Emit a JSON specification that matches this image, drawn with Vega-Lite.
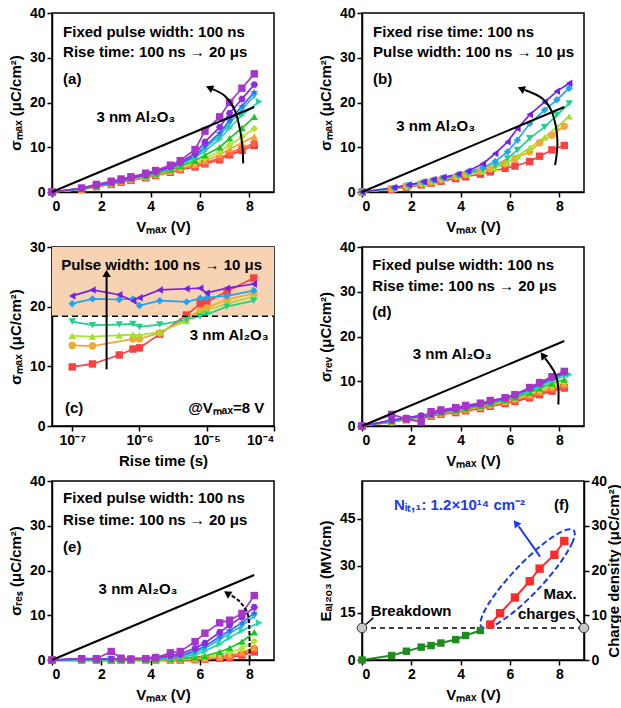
{
"$schema": "https://vega.github.io/schema/vega-lite/v6.json",
"background": "white",
"padding": {"left": 7, "top": 5, "right": 2, "bottom": 5},
"config": {
 "font": "Liberation Sans",
 "view": {"stroke": "black", "strokeWidth": 1.5},
 "axis": {"grid": false, "domainColor": "black", "domainWidth": 1.5, "tickColor": "black", "tickWidth": 1.5, "tickSize": 5, "labelFont": "Liberation Sans", "labelFontSize": 14, "labelFontWeight": "bold", "labelColor": "black", "labelPadding": 2, "titleFont": "Liberation Sans", "titleFontSize": 15, "titleFontWeight": "bold", "titleColor": "black", "titlePadding": 6},
 "text": {"font": "Liberation Sans", "fontSize": 15, "fontWeight": "bold", "align": "left", "baseline": "middle", "color": "black"},
 "point": {"filled": true, "size": 55, "opacity": 1},
 "line": {"strokeWidth": 1.7}
},
"datasets": {
 "ref": [{"v":0,"y":0},{"v":8.2,"y":19}],
 "a": [
{"s":1,"v":0,"y":0},{"s":1,"v":1.2,"y":0.6},{"s":1,"v":1.8,"y":1.2},{"s":1,"v":2.4,"y":1.7},{"s":1,"v":2.8,"y":2.2},{"s":1,"v":3.2,"y":2.6},{"s":1,"v":3.8,"y":3.2},{"s":1,"v":4.2,"y":3.7},{"s":1,"v":4.8,"y":4.4},{"s":1,"v":5.2,"y":5.0},{"s":1,"v":5.8,"y":5.6},{"s":1,"v":6.2,"y":6.3},{"s":1,"v":6.8,"y":7.2},{"s":1,"v":7.2,"y":8.3},{"s":1,"v":7.7,"y":9.3},{"s":1,"v":8.2,"y":10.4},
{"s":2,"v":0,"y":0},{"s":2,"v":1.2,"y":0.6},{"s":2,"v":1.8,"y":1.2},{"s":2,"v":2.4,"y":1.8},{"s":2,"v":2.8,"y":2.3},{"s":2,"v":3.2,"y":2.7},{"s":2,"v":3.8,"y":3.3},{"s":2,"v":4.2,"y":3.8},{"s":2,"v":4.8,"y":4.5},{"s":2,"v":5.2,"y":5.1},{"s":2,"v":5.8,"y":5.8},{"s":2,"v":6.2,"y":6.5},{"s":2,"v":6.8,"y":7.6},{"s":2,"v":7.2,"y":8.7},{"s":2,"v":7.7,"y":9.8},{"s":2,"v":8.2,"y":10.9},
{"s":3,"v":0,"y":0},{"s":3,"v":1.2,"y":0.6},{"s":3,"v":1.8,"y":1.3},{"s":3,"v":2.4,"y":1.9},{"s":3,"v":2.8,"y":2.4},{"s":3,"v":3.2,"y":2.8},{"s":3,"v":3.8,"y":3.4},{"s":3,"v":4.2,"y":3.9},{"s":3,"v":4.8,"y":4.6},{"s":3,"v":5.2,"y":5.3},{"s":3,"v":5.8,"y":6.1},{"s":3,"v":6.2,"y":7.0},{"s":3,"v":6.8,"y":8.3},{"s":3,"v":7.2,"y":9.6},{"s":3,"v":7.7,"y":11.0},{"s":3,"v":8.2,"y":12.4},
{"s":4,"v":0,"y":0},{"s":4,"v":1.2,"y":0.6},{"s":4,"v":1.8,"y":1.3},{"s":4,"v":2.4,"y":1.9},{"s":4,"v":2.8,"y":2.4},{"s":4,"v":3.2,"y":2.9},{"s":4,"v":3.8,"y":3.5},{"s":4,"v":4.2,"y":4.0},{"s":4,"v":4.8,"y":4.8},{"s":4,"v":5.2,"y":5.5},{"s":4,"v":5.8,"y":6.5},{"s":4,"v":6.2,"y":7.5},{"s":4,"v":6.8,"y":9.0},{"s":4,"v":7.2,"y":10.5},{"s":4,"v":7.7,"y":12.3},{"s":4,"v":8.2,"y":14.2},
{"s":5,"v":0,"y":0},{"s":5,"v":1.2,"y":0.7},{"s":5,"v":1.8,"y":1.3},{"s":5,"v":2.4,"y":2.0},{"s":5,"v":2.8,"y":2.5},{"s":5,"v":3.2,"y":3.0},{"s":5,"v":3.8,"y":3.6},{"s":5,"v":4.2,"y":4.1},{"s":5,"v":4.8,"y":5.0},{"s":5,"v":5.2,"y":5.8},{"s":5,"v":5.8,"y":7.0},{"s":5,"v":6.2,"y":8.2},{"s":5,"v":6.8,"y":10.0},{"s":5,"v":7.2,"y":12.0},{"s":5,"v":7.7,"y":14.3},{"s":5,"v":8.2,"y":16.8},
{"s":6,"v":0,"y":0},{"s":6,"v":1.2,"y":0.7},{"s":6,"v":1.8,"y":1.4},{"s":6,"v":2.4,"y":2.0},{"s":6,"v":2.8,"y":2.5},{"s":6,"v":3.2,"y":3.0},{"s":6,"v":3.8,"y":3.7},{"s":6,"v":4.2,"y":4.3},{"s":6,"v":4.8,"y":5.2},{"s":6,"v":5.2,"y":6.1},{"s":6,"v":5.8,"y":7.6},{"s":6,"v":6.2,"y":9.2},{"s":6,"v":6.8,"y":11.8},{"s":6,"v":7.2,"y":14.3},{"s":6,"v":7.7,"y":17.2},{"s":6,"v":8.4,"y":20.2},
{"s":7,"v":0,"y":0},{"s":7,"v":1.2,"y":0.7},{"s":7,"v":1.8,"y":1.4},{"s":7,"v":2.4,"y":2.1},{"s":7,"v":2.8,"y":2.6},{"s":7,"v":3.2,"y":3.1},{"s":7,"v":3.8,"y":3.8},{"s":7,"v":4.2,"y":4.4},{"s":7,"v":4.8,"y":5.4},{"s":7,"v":5.2,"y":6.3},{"s":7,"v":5.8,"y":7.9},{"s":7,"v":6.2,"y":9.8},{"s":7,"v":6.8,"y":12.6},{"s":7,"v":7.2,"y":15.3},{"s":7,"v":7.7,"y":18.4},{"s":7,"v":8.2,"y":21.5},
{"s":8,"v":0,"y":0},{"s":8,"v":1.2,"y":0.8},{"s":8,"v":1.8,"y":1.5},{"s":8,"v":2.4,"y":2.1},{"s":8,"v":2.8,"y":2.6},{"s":8,"v":3.2,"y":3.1},{"s":8,"v":3.8,"y":3.8},{"s":8,"v":4.2,"y":4.5},{"s":8,"v":4.8,"y":5.5},{"s":8,"v":5.2,"y":6.4},{"s":8,"v":5.8,"y":8.1},{"s":8,"v":6.2,"y":10.2},{"s":8,"v":6.8,"y":13.2},{"s":8,"v":7.2,"y":16.0},{"s":8,"v":7.7,"y":19.2},{"s":8,"v":8.2,"y":22.3},
{"s":9,"v":0,"y":0},{"s":9,"v":1.2,"y":0.8},{"s":9,"v":1.8,"y":1.5},{"s":9,"v":2.4,"y":2.2},{"s":9,"v":2.8,"y":2.7},{"s":9,"v":3.2,"y":3.2},{"s":9,"v":3.8,"y":3.9},{"s":9,"v":4.2,"y":4.6},{"s":9,"v":4.8,"y":5.7},{"s":9,"v":5.2,"y":6.6},{"s":9,"v":5.8,"y":8.6},{"s":9,"v":6.2,"y":11.2},{"s":9,"v":6.8,"y":14.5},{"s":9,"v":7.2,"y":17.6},{"s":9,"v":7.7,"y":20.8},{"s":9,"v":8.2,"y":24.0},
{"s":10,"v":0,"y":0},{"s":10,"v":1.2,"y":0.9},{"s":10,"v":1.8,"y":1.7},{"s":10,"v":2.4,"y":2.4},{"s":10,"v":2.8,"y":2.9},{"s":10,"v":3.2,"y":3.4},{"s":10,"v":3.8,"y":4.2},{"s":10,"v":4.2,"y":4.8},{"s":10,"v":4.8,"y":6.0},{"s":10,"v":5.2,"y":7.0},{"s":10,"v":5.8,"y":9.5},{"s":10,"v":6.2,"y":13.6},{"s":10,"v":6.8,"y":16.8},{"s":10,"v":7.2,"y":20.0},{"s":10,"v":7.7,"y":23.2},{"s":10,"v":8.2,"y":26.4}
 ],
 "b": [
{"s":1,"v":0,"y":0},{"s":1,"v":1.2,"y":0.6},{"s":1,"v":1.8,"y":1.1},{"s":1,"v":2.4,"y":1.6},{"s":1,"v":2.8,"y":2.0},{"s":1,"v":3.2,"y":2.4},{"s":1,"v":3.8,"y":3.0},{"s":1,"v":4.2,"y":3.4},{"s":1,"v":4.8,"y":4.0},{"s":1,"v":5.2,"y":4.5},{"s":1,"v":5.8,"y":5.3},{"s":1,"v":6.2,"y":5.8},{"s":1,"v":6.8,"y":6.8},{"s":1,"v":7.2,"y":8.0},{"s":1,"v":7.7,"y":9.4},{"s":1,"v":8.2,"y":10.4},
{"s":2,"v":0,"y":0},{"s":2,"v":1.2,"y":0.7},{"s":2,"v":1.8,"y":1.3},{"s":2,"v":2.4,"y":1.9},{"s":2,"v":2.8,"y":2.3},{"s":2,"v":3.2,"y":2.8},{"s":2,"v":3.8,"y":3.4},{"s":2,"v":4.2,"y":3.9},{"s":2,"v":4.8,"y":4.6},{"s":2,"v":5.2,"y":5.2},{"s":2,"v":5.8,"y":6.3},{"s":2,"v":6.2,"y":7.5},{"s":2,"v":6.8,"y":9.0},{"s":2,"v":7.2,"y":11.0},{"s":2,"v":7.7,"y":12.7},{"s":2,"v":8.2,"y":14.7},
{"s":3,"v":0,"y":0},{"s":3,"v":1.3,"y":0.7},{"s":3,"v":1.9,"y":1.3},{"s":3,"v":2.5,"y":1.9},{"s":3,"v":2.9,"y":2.4},{"s":3,"v":3.3,"y":2.9},{"s":3,"v":3.9,"y":3.5},{"s":3,"v":4.3,"y":4.0},{"s":3,"v":4.9,"y":4.7},{"s":3,"v":5.4,"y":5.4},{"s":3,"v":5.9,"y":6.6},{"s":3,"v":6.3,"y":8.0},{"s":3,"v":6.8,"y":9.9},{"s":3,"v":7.4,"y":12.2},{"s":3,"v":7.9,"y":14.5},{"s":3,"v":8.4,"y":16.9},
{"s":4,"v":0,"y":0},{"s":4,"v":1.3,"y":0.8},{"s":4,"v":1.9,"y":1.4},{"s":4,"v":2.5,"y":2.0},{"s":4,"v":2.9,"y":2.5},{"s":4,"v":3.3,"y":3.0},{"s":4,"v":3.9,"y":3.6},{"s":4,"v":4.3,"y":4.2},{"s":4,"v":4.9,"y":5.0},{"s":4,"v":5.4,"y":5.8},{"s":4,"v":5.9,"y":7.5},{"s":4,"v":6.3,"y":9.4},{"s":4,"v":6.8,"y":12.0},{"s":4,"v":7.4,"y":14.5},{"s":4,"v":7.9,"y":17.2},{"s":4,"v":8.4,"y":19.8},
{"s":5,"v":0,"y":0},{"s":5,"v":1.3,"y":0.9},{"s":5,"v":1.9,"y":1.5},{"s":5,"v":2.5,"y":2.2},{"s":5,"v":2.9,"y":2.7},{"s":5,"v":3.3,"y":3.2},{"s":5,"v":3.9,"y":3.9},{"s":5,"v":4.3,"y":4.5},{"s":5,"v":4.9,"y":5.4},{"s":5,"v":5.4,"y":6.8},{"s":5,"v":5.9,"y":9.0},{"s":5,"v":6.3,"y":11.6},{"s":5,"v":6.8,"y":15.3},{"s":5,"v":7.4,"y":18.3},{"s":5,"v":7.9,"y":20.6},{"s":5,"v":8.4,"y":23.2},
{"s":6,"v":0,"y":0},{"s":6,"v":1.3,"y":1.0},{"s":6,"v":1.9,"y":1.6},{"s":6,"v":2.5,"y":2.3},{"s":6,"v":2.9,"y":2.8},{"s":6,"v":3.3,"y":3.3},{"s":6,"v":3.9,"y":4.0},{"s":6,"v":4.3,"y":4.7},{"s":6,"v":4.9,"y":6.3},{"s":6,"v":5.4,"y":8.6},{"s":6,"v":5.9,"y":11.2},{"s":6,"v":6.3,"y":14.2},{"s":6,"v":6.8,"y":17.3},{"s":6,"v":7.4,"y":20.1},{"s":6,"v":7.9,"y":22.5},{"s":6,"v":8.4,"y":24.3}
 ],
 "c": [
{"s":1,"v":1e-7,"y":9.9},{"s":1,"v":2e-7,"y":10.4},{"s":1,"v":5e-7,"y":11.9},{"s":1,"v":8e-7,"y":12.9},{"s":1,"v":1e-6,"y":13.1},{"s":1,"v":2e-6,"y":15.4},{"s":1,"v":5e-6,"y":18.6},{"s":1,"v":8e-6,"y":20.5},{"s":1,"v":1e-5,"y":20.8},{"s":1,"v":2e-5,"y":22.6},{"s":1,"v":5e-5,"y":24.8},
{"s":2,"v":1e-7,"y":13.5},{"s":2,"v":2e-7,"y":13.4},{"s":2,"v":8e-7,"y":14.6},{"s":2,"v":1e-6,"y":14.6},{"s":2,"v":2e-6,"y":15.6},{"s":2,"v":5e-6,"y":18.0},{"s":2,"v":8e-6,"y":19.3},{"s":2,"v":1e-5,"y":19.8},{"s":2,"v":2e-5,"y":21.2},{"s":2,"v":5e-5,"y":22.2},
{"s":3,"v":1e-7,"y":15.1},{"s":3,"v":2e-7,"y":15.0},{"s":3,"v":5e-7,"y":15.2},{"s":3,"v":8e-7,"y":15.3},{"s":3,"v":1e-6,"y":15.2},{"s":3,"v":2e-6,"y":15.8},{"s":3,"v":5e-6,"y":17.6},{"s":3,"v":8e-6,"y":19.1},{"s":3,"v":1e-5,"y":19.4},{"s":3,"v":2e-5,"y":20.5},{"s":3,"v":5e-5,"y":21.7},
{"s":4,"v":1e-7,"y":17.5},{"s":4,"v":2e-7,"y":16.9},{"s":4,"v":5e-7,"y":17.0},{"s":4,"v":8e-7,"y":17.1},{"s":4,"v":1e-6,"y":16.6},{"s":4,"v":2e-6,"y":17.0},{"s":4,"v":5e-6,"y":17.8},{"s":4,"v":8e-6,"y":18.4},{"s":4,"v":1e-5,"y":18.7},{"s":4,"v":2e-5,"y":20.0},{"s":4,"v":5e-5,"y":21.0},
{"s":5,"v":1e-7,"y":20.5},{"s":5,"v":2e-7,"y":21.3},{"s":5,"v":5e-7,"y":21.2},{"s":5,"v":8e-7,"y":21.3},{"s":5,"v":1e-6,"y":20.2},{"s":5,"v":2e-6,"y":21.0},{"s":5,"v":5e-6,"y":20.8},{"s":5,"v":8e-6,"y":21.4},{"s":5,"v":1e-5,"y":21.5},{"s":5,"v":2e-5,"y":21.8},{"s":5,"v":5e-5,"y":22.7},
{"s":6,"v":1e-7,"y":21.8},{"s":6,"v":2e-7,"y":22.8},{"s":6,"v":5e-7,"y":22.0},{"s":6,"v":8e-7,"y":21.0},{"s":6,"v":1e-6,"y":21.5},{"s":6,"v":2e-6,"y":22.8},{"s":6,"v":5e-6,"y":23.0},{"s":6,"v":8e-6,"y":23.1},{"s":6,"v":1e-5,"y":22.3},{"s":6,"v":2e-5,"y":23.1},{"s":6,"v":5e-5,"y":23.8}
 ],
 "d": [
{"s":1,"v":0,"y":0},{"s":1,"v":1.2,"y":0.9},{"s":1,"v":1.8,"y":1.4},{"s":1,"v":2.4,"y":1.8},{"s":1,"v":2.8,"y":2.2},{"s":1,"v":3.2,"y":2.6},{"s":1,"v":3.8,"y":3.0},{"s":1,"v":4.2,"y":3.4},{"s":1,"v":4.8,"y":3.9},{"s":1,"v":5.2,"y":4.4},{"s":1,"v":5.8,"y":5.0},{"s":1,"v":6.2,"y":5.5},{"s":1,"v":6.8,"y":6.3},{"s":1,"v":7.2,"y":7.0},{"s":1,"v":7.7,"y":7.8},{"s":1,"v":8.2,"y":8.5},
{"s":2,"v":0,"y":0},{"s":2,"v":1.2,"y":0.9},{"s":2,"v":1.8,"y":1.5},{"s":2,"v":2.4,"y":1.9},{"s":2,"v":2.8,"y":2.3},{"s":2,"v":3.2,"y":2.7},{"s":2,"v":3.8,"y":3.2},{"s":2,"v":4.2,"y":3.5},{"s":2,"v":4.8,"y":4.1},{"s":2,"v":5.2,"y":4.6},{"s":2,"v":5.8,"y":5.2},{"s":2,"v":6.2,"y":5.7},{"s":2,"v":6.8,"y":6.6},{"s":2,"v":7.2,"y":7.3},{"s":2,"v":7.7,"y":8.2},{"s":2,"v":8.2,"y":8.9},
{"s":3,"v":0,"y":0},{"s":3,"v":1.2,"y":1.0},{"s":3,"v":1.8,"y":1.5},{"s":3,"v":2.4,"y":2.0},{"s":3,"v":2.8,"y":2.4},{"s":3,"v":3.2,"y":2.8},{"s":3,"v":3.8,"y":3.3},{"s":3,"v":4.2,"y":3.7},{"s":3,"v":4.8,"y":4.2},{"s":3,"v":5.2,"y":4.7},{"s":3,"v":5.8,"y":5.4},{"s":3,"v":6.2,"y":6.0},{"s":3,"v":6.8,"y":6.9},{"s":3,"v":7.2,"y":7.7},{"s":3,"v":7.7,"y":8.6},{"s":3,"v":8.2,"y":9.4},
{"s":4,"v":0,"y":0},{"s":4,"v":1.2,"y":1.0},{"s":4,"v":1.8,"y":1.6},{"s":4,"v":2.4,"y":2.1},{"s":4,"v":2.8,"y":2.5},{"s":4,"v":3.2,"y":2.9},{"s":4,"v":3.8,"y":3.4},{"s":4,"v":4.2,"y":3.8},{"s":4,"v":4.8,"y":4.4},{"s":4,"v":5.2,"y":4.9},{"s":4,"v":5.8,"y":5.6},{"s":4,"v":6.2,"y":6.2},{"s":4,"v":6.8,"y":7.2},{"s":4,"v":7.2,"y":8.0},{"s":4,"v":7.7,"y":9.0},{"s":4,"v":8.2,"y":9.9},
{"s":5,"v":0,"y":0},{"s":5,"v":1.2,"y":1.1},{"s":5,"v":1.8,"y":1.6},{"s":5,"v":2.4,"y":2.1},{"s":5,"v":2.8,"y":2.5},{"s":5,"v":3.2,"y":3.0},{"s":5,"v":3.8,"y":3.5},{"s":5,"v":4.2,"y":3.9},{"s":5,"v":4.8,"y":4.5},{"s":5,"v":5.2,"y":5.0},{"s":5,"v":5.8,"y":5.8},{"s":5,"v":6.2,"y":6.4},{"s":5,"v":6.8,"y":7.5},{"s":5,"v":7.2,"y":8.4},{"s":5,"v":7.7,"y":9.5},{"s":5,"v":8.2,"y":10.4},
{"s":6,"v":0,"y":0},{"s":6,"v":1.2,"y":1.1},{"s":6,"v":1.8,"y":1.7},{"s":6,"v":2.4,"y":2.2},{"s":6,"v":2.8,"y":2.6},{"s":6,"v":3.2,"y":3.1},{"s":6,"v":3.8,"y":3.6},{"s":6,"v":4.2,"y":4.0},{"s":6,"v":4.8,"y":4.6},{"s":6,"v":5.2,"y":5.2},{"s":6,"v":5.8,"y":6.0},{"s":6,"v":6.2,"y":6.7},{"s":6,"v":6.8,"y":7.8},{"s":6,"v":7.2,"y":8.8},{"s":6,"v":7.7,"y":10.1},{"s":6,"v":8.4,"y":11.5},
{"s":7,"v":0,"y":0},{"s":7,"v":1.2,"y":1.2},{"s":7,"v":1.8,"y":1.7},{"s":7,"v":2.4,"y":2.2},{"s":7,"v":2.8,"y":2.7},{"s":7,"v":3.2,"y":3.2},{"s":7,"v":3.8,"y":3.7},{"s":7,"v":4.2,"y":4.1},{"s":7,"v":4.8,"y":4.7},{"s":7,"v":5.2,"y":5.3},{"s":7,"v":5.8,"y":6.1},{"s":7,"v":6.2,"y":6.9},{"s":7,"v":6.8,"y":8.1},{"s":7,"v":7.2,"y":9.1},{"s":7,"v":7.7,"y":10.3},{"s":7,"v":8.2,"y":11.6},
{"s":8,"v":0,"y":0},{"s":8,"v":1.2,"y":1.2},{"s":8,"v":1.8,"y":1.8},{"s":8,"v":2.4,"y":2.3},{"s":8,"v":2.8,"y":2.7},{"s":8,"v":3.2,"y":3.2},{"s":8,"v":3.8,"y":3.8},{"s":8,"v":4.2,"y":4.2},{"s":8,"v":4.8,"y":4.8},{"s":8,"v":5.2,"y":5.4},{"s":8,"v":5.8,"y":6.2},{"s":8,"v":6.2,"y":7.0},{"s":8,"v":6.8,"y":8.3},{"s":8,"v":7.2,"y":9.3},{"s":8,"v":7.7,"y":10.6},{"s":8,"v":8.2,"y":11.8},
{"s":9,"v":0,"y":0},{"s":9,"v":1.2,"y":1.3},{"s":9,"v":1.8,"y":1.8},{"s":9,"v":2.4,"y":2.3},{"s":9,"v":2.8,"y":2.8},{"s":9,"v":3.2,"y":3.3},{"s":9,"v":3.8,"y":3.8},{"s":9,"v":4.2,"y":4.3},{"s":9,"v":4.8,"y":4.9},{"s":9,"v":5.2,"y":5.5},{"s":9,"v":5.8,"y":6.3},{"s":9,"v":6.2,"y":7.1},{"s":9,"v":6.8,"y":8.4},{"s":9,"v":7.2,"y":9.5},{"s":9,"v":7.7,"y":10.9},{"s":9,"v":8.2,"y":12.1},
{"s":10,"v":0,"y":0},{"s":10,"v":1.2,"y":2.6},{"s":10,"v":1.8,"y":1.6},{"s":10,"v":2.4,"y":0.9},{"s":10,"v":2.8,"y":3.2},{"s":10,"v":3.2,"y":3.6},{"s":10,"v":3.8,"y":4.1},{"s":10,"v":4.2,"y":4.6},{"s":10,"v":4.8,"y":5.1},{"s":10,"v":5.2,"y":5.7},{"s":10,"v":5.8,"y":6.3},{"s":10,"v":6.2,"y":7.0},{"s":10,"v":6.8,"y":8.6},{"s":10,"v":7.2,"y":9.7},{"s":10,"v":7.7,"y":11.0},{"s":10,"v":8.2,"y":12.2}
 ],
 "e": [
{"s":1,"v":0,"y":0},{"s":1,"v":1.2,"y":0},{"s":1,"v":1.8,"y":0},{"s":1,"v":2.4,"y":0},{"s":1,"v":2.8,"y":0},{"s":1,"v":3.2,"y":0},{"s":1,"v":3.8,"y":0},{"s":1,"v":4.2,"y":0},{"s":1,"v":4.8,"y":0},{"s":1,"v":5.2,"y":0},{"s":1,"v":5.8,"y":0.1},{"s":1,"v":6.2,"y":0.2},{"s":1,"v":6.8,"y":0.4},{"s":1,"v":7.2,"y":0.6},{"s":1,"v":7.7,"y":1.1},{"s":1,"v":8.2,"y":1.8},
{"s":2,"v":0,"y":0},{"s":2,"v":1.2,"y":0},{"s":2,"v":1.8,"y":0},{"s":2,"v":2.4,"y":0},{"s":2,"v":2.8,"y":0},{"s":2,"v":3.2,"y":0},{"s":2,"v":3.8,"y":0},{"s":2,"v":4.2,"y":0},{"s":2,"v":4.8,"y":0},{"s":2,"v":5.2,"y":0.1},{"s":2,"v":5.8,"y":0.1},{"s":2,"v":6.2,"y":0.2},{"s":2,"v":6.8,"y":0.5},{"s":2,"v":7.2,"y":0.8},{"s":2,"v":7.7,"y":1.3},{"s":2,"v":8.2,"y":2.5},
{"s":3,"v":0,"y":0},{"s":3,"v":1.2,"y":0},{"s":3,"v":1.8,"y":0},{"s":3,"v":2.4,"y":0},{"s":3,"v":2.8,"y":0},{"s":3,"v":3.2,"y":0},{"s":3,"v":3.8,"y":0},{"s":3,"v":4.2,"y":0},{"s":3,"v":4.8,"y":0},{"s":3,"v":5.2,"y":0.1},{"s":3,"v":5.8,"y":0.2},{"s":3,"v":6.2,"y":0.3},{"s":3,"v":6.8,"y":0.7},{"s":3,"v":7.2,"y":1.1},{"s":3,"v":7.7,"y":1.7},{"s":3,"v":8.2,"y":2.8},
{"s":4,"v":0,"y":0},{"s":4,"v":1.2,"y":0.1},{"s":4,"v":1.8,"y":0.1},{"s":4,"v":2.4,"y":0},{"s":4,"v":2.8,"y":0},{"s":4,"v":3.2,"y":0},{"s":4,"v":3.8,"y":0},{"s":4,"v":4.2,"y":0},{"s":4,"v":4.8,"y":0.1},{"s":4,"v":5.2,"y":0.2},{"s":4,"v":5.8,"y":0.4},{"s":4,"v":6.2,"y":0.6},{"s":4,"v":6.8,"y":1.2},{"s":4,"v":7.2,"y":1.7},{"s":4,"v":7.7,"y":2.6},{"s":4,"v":8.2,"y":4.2},
{"s":5,"v":0,"y":0},{"s":5,"v":1.2,"y":0.1},{"s":5,"v":1.8,"y":0},{"s":5,"v":2.4,"y":0},{"s":5,"v":2.8,"y":0},{"s":5,"v":3.2,"y":0},{"s":5,"v":3.8,"y":0.1},{"s":5,"v":4.2,"y":0.1},{"s":5,"v":4.8,"y":0.2},{"s":5,"v":5.2,"y":0.3},{"s":5,"v":5.8,"y":0.6},{"s":5,"v":6.2,"y":0.9},{"s":5,"v":6.8,"y":1.8},{"s":5,"v":7.2,"y":2.7},{"s":5,"v":7.7,"y":4.1},{"s":5,"v":8.2,"y":6.2},
{"s":6,"v":0,"y":0},{"s":6,"v":1.2,"y":0},{"s":6,"v":1.8,"y":0.1},{"s":6,"v":2.4,"y":0.1},{"s":6,"v":2.8,"y":0.1},{"s":6,"v":3.2,"y":0.2},{"s":6,"v":3.8,"y":0.2},{"s":6,"v":4.2,"y":0.3},{"s":6,"v":4.8,"y":0.4},{"s":6,"v":5.2,"y":0.6},{"s":6,"v":5.8,"y":1.2},{"s":6,"v":6.2,"y":2.0},{"s":6,"v":6.8,"y":3.6},{"s":6,"v":7.2,"y":5.0},{"s":6,"v":7.7,"y":6.6},{"s":6,"v":8.4,"y":8.3},
{"s":7,"v":0,"y":0},{"s":7,"v":1.2,"y":0.2},{"s":7,"v":1.8,"y":0.1},{"s":7,"v":2.4,"y":0.2},{"s":7,"v":2.8,"y":0.2},{"s":7,"v":3.2,"y":0.2},{"s":7,"v":3.8,"y":0.3},{"s":7,"v":4.2,"y":0.4},{"s":7,"v":4.8,"y":0.6},{"s":7,"v":5.2,"y":0.8},{"s":7,"v":5.8,"y":1.7},{"s":7,"v":6.2,"y":2.7},{"s":7,"v":6.8,"y":4.6},{"s":7,"v":7.2,"y":6.0},{"s":7,"v":7.7,"y":7.6},{"s":7,"v":8.2,"y":9.8},
{"s":8,"v":0,"y":0},{"s":8,"v":1.2,"y":0.2},{"s":8,"v":1.8,"y":0.2},{"s":8,"v":2.4,"y":0.2},{"s":8,"v":2.8,"y":0.2},{"s":8,"v":3.2,"y":0.3},{"s":8,"v":3.8,"y":0.3},{"s":8,"v":4.2,"y":0.5},{"s":8,"v":4.8,"y":0.8},{"s":8,"v":5.2,"y":1.0},{"s":8,"v":5.8,"y":2.0},{"s":8,"v":6.2,"y":3.1},{"s":8,"v":6.8,"y":5.2},{"s":8,"v":7.2,"y":6.6},{"s":8,"v":7.7,"y":8.3},{"s":8,"v":8.2,"y":10.5},
{"s":9,"v":0,"y":0},{"s":9,"v":1.2,"y":0.3},{"s":9,"v":1.8,"y":0.2},{"s":9,"v":2.4,"y":0.2},{"s":9,"v":2.8,"y":0.2},{"s":9,"v":3.2,"y":0.3},{"s":9,"v":3.8,"y":0.4},{"s":9,"v":4.2,"y":0.7},{"s":9,"v":4.8,"y":1.0},{"s":9,"v":5.2,"y":1.4},{"s":9,"v":5.8,"y":2.6},{"s":9,"v":6.2,"y":3.8},{"s":9,"v":6.8,"y":6.2},{"s":9,"v":7.2,"y":7.8},{"s":9,"v":7.7,"y":9.6},{"s":9,"v":8.2,"y":11.8},
{"s":10,"v":0,"y":0},{"s":10,"v":1.2,"y":0.3},{"s":10,"v":1.8,"y":0.3},{"s":10,"v":2.4,"y":1.9},{"s":10,"v":2.8,"y":0.4},{"s":10,"v":3.2,"y":0.2},{"s":10,"v":3.8,"y":0.3},{"s":10,"v":4.2,"y":0.5},{"s":10,"v":4.8,"y":1.6},{"s":10,"v":5.2,"y":1.9},{"s":10,"v":5.8,"y":4.1},{"s":10,"v":6.2,"y":6.0},{"s":10,"v":6.8,"y":8.3},{"s":10,"v":7.2,"y":8.9},{"s":10,"v":7.7,"y":10.4},{"s":10,"v":8.2,"y":14.4}
 ],
 "arrA": [{"o":0,"v":7.75,"y":6.4},{"o":1,"v":7.72,"y":10},{"o":2,"v":7.62,"y":14},{"o":3,"v":7.4,"y":18.4},{"o":4,"v":7.0,"y":21.5},{"o":5,"v":6.5,"y":23.0}],
 "arrB": [{"o":0,"v":7.83,"y":6.0},{"o":1,"v":7.92,"y":11.6},{"o":2,"v":7.72,"y":17.6},{"o":3,"v":7.31,"y":20.9},{"o":4,"v":6.6,"y":22.8}],
 "arrD": [{"o":0,"v":7.96,"y":4.8},{"o":1,"v":7.96,"y":8.5},{"o":2,"v":7.85,"y":11.5},{"o":3,"v":7.6,"y":13.8},{"o":4,"v":7.42,"y":15.1}],
 "arrE": [{"o":0,"v":8.01,"y":0.2},{"o":1,"v":8.0,"y":6.8},{"o":2,"v":7.92,"y":10.5},{"o":3,"v":7.6,"y":13.1},{"o":4,"v":7.22,"y":14.6}],
 "fg": [{"v":0,"y":0},{"v":1.2,"y":1.4},{"v":1.8,"y":2.8},{"v":2.4,"y":4.1},{"v":2.8,"y":4.6},{"v":3.2,"y":5.4},{"v":3.8,"y":6.5},{"v":4.2,"y":7.8},{"v":4.8,"y":9.4}],
 "fr": [{"v":5.2,"y":11.3},{"v":5.6,"y":14.9},{"v":6.2,"y":19.9},{"v":6.8,"y":25.1},{"v":7.2,"y":29.1},{"v":7.8,"y":33.5},{"v":8.2,"y":37.9}],
 "ell": [{"o":0,"v":8.58,"y":41.3},{"o":1,"v":8.54,"y":37.6},{"o":2,"v":8.02,"y":30.8},{"o":3,"v":7.15,"y":22.6},{"o":4,"v":6.17,"y":15.4},{"o":5,"v":5.32,"y":10.9},{"o":6,"v":4.85,"y":10.5},{"o":7,"v":4.88,"y":14.2},{"o":8,"v":5.4,"y":21.0},{"o":9,"v":6.27,"y":29.1},{"o":10,"v":7.26,"y":36.4},{"o":11,"v":8.1,"y":40.9}]
},
"columns": 2,
"spacing": {"row": 55, "column": 88},
"bounds": "flush",
"resolve": {"scale": {"color": "independent", "shape": "independent"}},
"concat": [
 {
  "width": 222, "height": 179,
  "layer": [
   {"data": {"name": "a"}, "mark": {"type": "line"}, "encoding": {
     "x": {"field": "v", "type": "quantitative", "scale": {"domain": [0, 9], "nice": false}, "axis": {"values": [0, 2, 4, 6, 8], "title": "Vₘₐₓ (V)"}},
     "y": {"field": "y", "type": "quantitative", "scale": {"domain": [0, 40], "nice": false}, "axis": {"values": [0, 10, 20, 30, 40], "title": "σₘₐₓ (μC/cm²)"}},
     "color": {"field": "s", "type": "nominal", "scale": {"domain": [1,2,3,4,5,6,7,8,9,10], "range": ["#FF3B3B","#FF6347","#FA9E2E","#B4E334","#1DC81D","#22D6A0","#26B3EA","#2F6BF0","#8E2BE0","#A536C9"]}, "legend": null}}},
   {"data": {"name": "a"}, "mark": {"type": "point"}, "encoding": {
     "x": {"field": "v", "type": "quantitative", "title": "Vₘₐₓ (V)"},
     "y": {"field": "y", "type": "quantitative", "title": "σₘₐₓ (μC/cm²)"},
     "color": {"field": "s", "type": "nominal", "legend": null},
     "shape": {"field": "s", "type": "nominal", "scale": {"domain": [1,2,3,4,5,6,7,8,9,10], "range": ["square","circle","triangle-up","diamond","triangle-up","triangle-right","triangle-down","M0,-1L0.235,-0.324L0.951,-0.309L0.38,0.124L0.588,0.809L0,0.4L-0.588,0.809L-0.38,0.124L-0.951,-0.309L-0.235,-0.324Z","M-1,0L-0.5,-0.866L0.5,-0.866L1,0L0.5,0.866L-0.5,0.866Z","square"]}, "legend": null}}},
   {"data": {"name": "ref"}, "mark": {"type": "line", "color": "black", "strokeWidth": 2}, "encoding": {"x": {"field": "v", "type": "quantitative", "title": "Vₘₐₓ (V)"}, "y": {"field": "y", "type": "quantitative", "title": "σₘₐₓ (μC/cm²)"}}},
   {"data": {"name": "arrA"}, "mark": {"type": "line", "color": "black", "strokeWidth": 2, "interpolate": "cardinal"}, "encoding": {"x": {"field": "v", "type": "quantitative", "title": "Vₘₐₓ (V)"}, "y": {"field": "y", "type": "quantitative", "title": "σₘₐₓ (μC/cm²)"}, "order": {"field": "o"}}},
   {"data": {"values": [{}]}, "mark": {"type": "point", "shape": "triangle-up", "color": "black", "size": 70, "angle": -66}, "encoding": {"x": {"datum": 6.38, "type": "quantitative"}, "y": {"datum": 23.3, "type": "quantitative"}}},
   {"data": {"values": [{}]}, "mark": {"type": "text", "text": "Fixed pulse width: 100 ns"}, "encoding": {"x": {"datum": 0.45, "type": "quantitative"}, "y": {"datum": 35.8, "type": "quantitative"}}},
   {"data": {"values": [{}]}, "mark": {"type": "text", "text": "Rise time: 100 ns → 20 μs"}, "encoding": {"x": {"datum": 0.45, "type": "quantitative"}, "y": {"datum": 31.3, "type": "quantitative"}}},
   {"data": {"values": [{}]}, "mark": {"type": "text", "text": "(a)"}, "encoding": {"x": {"datum": 0.45, "type": "quantitative"}, "y": {"datum": 25.3, "type": "quantitative"}}},
   {"data": {"values": [{}]}, "mark": {"type": "text", "text": "3 nm Al₂O₃"}, "encoding": {"x": {"datum": 1.8, "type": "quantitative"}, "y": {"datum": 16.8, "type": "quantitative"}}}
  ]
 },
 {
  "width": 222, "height": 179,
  "layer": [
   {"data": {"name": "b"}, "mark": {"type": "line"}, "encoding": {
     "x": {"field": "v", "type": "quantitative", "scale": {"domain": [0, 9], "nice": false}, "axis": {"values": [0, 2, 4, 6, 8], "title": "Vₘₐₓ (V)"}},
     "y": {"field": "y", "type": "quantitative", "scale": {"domain": [0, 40], "nice": false}, "axis": {"values": [0, 10, 20, 30, 40], "title": "σₘₐₓ (μC/cm²)"}},
     "color": {"field": "s", "type": "nominal", "scale": {"domain": [1,2,3,4,5,6], "range": ["#F54242","#EFA935","#A3E02C","#1FD08A","#1FA4F2","#7420E2"]}, "legend": null}}},
   {"data": {"name": "b"}, "mark": {"type": "point"}, "encoding": {
     "x": {"field": "v", "type": "quantitative", "title": "Vₘₐₓ (V)"},
     "y": {"field": "y", "type": "quantitative", "title": "σₘₐₓ (μC/cm²)"},
     "color": {"field": "s", "type": "nominal", "legend": null},
     "shape": {"field": "s", "type": "nominal", "scale": {"domain": [1,2,3,4,5,6], "range": ["square","circle","triangle-up","triangle-down","diamond","triangle-left"]}, "legend": null}}},
   {"data": {"name": "ref"}, "mark": {"type": "line", "color": "black", "strokeWidth": 2}, "encoding": {"x": {"field": "v", "type": "quantitative", "title": "Vₘₐₓ (V)"}, "y": {"field": "y", "type": "quantitative", "title": "σₘₐₓ (μC/cm²)"}}},
   {"data": {"name": "arrB"}, "mark": {"type": "line", "color": "black", "strokeWidth": 2, "interpolate": "cardinal"}, "encoding": {"x": {"field": "v", "type": "quantitative", "title": "Vₘₐₓ (V)"}, "y": {"field": "y", "type": "quantitative", "title": "σₘₐₓ (μC/cm²)"}, "order": {"field": "o"}}},
   {"data": {"values": [{}]}, "mark": {"type": "point", "shape": "triangle-up", "color": "black", "size": 70, "angle": -67}, "encoding": {"x": {"datum": 6.45, "type": "quantitative"}, "y": {"datum": 23.1, "type": "quantitative"}}},
   {"data": {"values": [{}]}, "mark": {"type": "text", "text": "Fixed rise time: 100 ns"}, "encoding": {"x": {"datum": 0.45, "type": "quantitative"}, "y": {"datum": 35.8, "type": "quantitative"}}},
   {"data": {"values": [{}]}, "mark": {"type": "text", "text": "Pulse width: 100 ns → 10 μs"}, "encoding": {"x": {"datum": 0.45, "type": "quantitative"}, "y": {"datum": 31.3, "type": "quantitative"}}},
   {"data": {"values": [{}]}, "mark": {"type": "text", "text": "(b)"}, "encoding": {"x": {"datum": 0.45, "type": "quantitative"}, "y": {"datum": 25.3, "type": "quantitative"}}},
   {"data": {"values": [{}]}, "mark": {"type": "text", "text": "3 nm Al₂O₃"}, "encoding": {"x": {"datum": 1.39, "type": "quantitative"}, "y": {"datum": 14.8, "type": "quantitative"}}}
  ]
 },
 {
  "width": 222, "height": 179,
  "layer": [
   {"data": {"values": [{}]}, "mark": {"type": "rect", "color": "#F8D3B3"}, "encoding": {"x": {"datum": 5e-8, "type": "quantitative", "scale": {"type": "log"}}, "x2": {"datum": 1e-4}, "y": {"datum": 18.4, "type": "quantitative"}, "y2": {"datum": 30}}},
   {"data": {"name": "c"}, "mark": {"type": "line"}, "encoding": {
     "x": {"field": "v", "type": "quantitative", "scale": {"type": "log", "domain": [5e-8, 1e-4], "nice": false}, "axis": {"values": [1e-7, 1e-6, 1e-5, 1e-4], "title": "Rise time (s)", "labelExpr": "datum.value < 5e-7 ? '10⁻⁷' : datum.value < 5e-6 ? '10⁻⁶' : datum.value < 5e-5 ? '10⁻⁵' : '10⁻⁴'"}},
     "y": {"field": "y", "type": "quantitative", "scale": {"domain": [0, 30], "nice": false}, "axis": {"values": [0, 10, 20, 30], "title": "σₘₐₓ (μC/cm²)"}},
     "color": {"field": "s", "type": "nominal", "scale": {"domain": [1,2,3,4,5,6], "range": ["#F54242","#EFA935","#A3E02C","#1FD08A","#1FA4F2","#7420E2"]}, "legend": null}}},
   {"data": {"name": "c"}, "mark": {"type": "point"}, "encoding": {
     "x": {"field": "v", "type": "quantitative", "title": "Rise time (s)"},
     "y": {"field": "y", "type": "quantitative", "title": "σₘₐₓ (μC/cm²)"},
     "color": {"field": "s", "type": "nominal", "legend": null},
     "shape": {"field": "s", "type": "nominal", "scale": {"domain": [1,2,3,4,5,6], "range": ["square","circle","triangle-up","triangle-down","diamond","triangle-left"]}, "legend": null}}},
   {"data": {"values": [{}]}, "mark": {"type": "rule", "color": "black", "strokeWidth": 1.5, "strokeDash": [6, 4]}, "encoding": {"x": {"datum": 5e-8, "type": "quantitative"}, "x2": {"datum": 1e-4}, "y": {"datum": 18.4, "type": "quantitative"}}},
   {"data": {"values": [{}]}, "mark": {"type": "rule", "color": "black", "strokeWidth": 2}, "encoding": {"x": {"datum": 3.24e-7, "type": "quantitative"}, "y": {"datum": 9.5, "type": "quantitative"}, "y2": {"datum": 25.0}}},
   {"data": {"values": [{}]}, "mark": {"type": "point", "shape": "triangle-up", "color": "black", "size": 70}, "encoding": {"x": {"datum": 3.24e-7, "type": "quantitative"}, "y": {"datum": 25.6, "type": "quantitative"}}},
   {"data": {"values": [{}]}, "mark": {"type": "text", "text": "Pulse width: 100 ns → 10 μs"}, "encoding": {"x": {"datum": 6.84e-8, "type": "quantitative"}, "y": {"datum": 27, "type": "quantitative"}}},
   {"data": {"values": [{}]}, "mark": {"type": "text", "text": "3 nm Al₂O₃"}, "encoding": {"x": {"datum": 5.6e-6, "type": "quantitative"}, "y": {"datum": 15.2, "type": "quantitative"}}},
   {"data": {"values": [{}]}, "mark": {"type": "text", "text": "(c)"}, "encoding": {"x": {"datum": 7.8e-8, "type": "quantitative"}, "y": {"datum": 3.1, "type": "quantitative"}}},
   {"data": {"values": [{}]}, "mark": {"type": "text", "text": "@Vₘₐₓ=8 V"}, "encoding": {"x": {"datum": 5.3e-6, "type": "quantitative"}, "y": {"datum": 3.1, "type": "quantitative"}}}
  ]
 },
 {
  "width": 222, "height": 179,
  "layer": [
   {"data": {"name": "d"}, "mark": {"type": "line"}, "encoding": {
     "x": {"field": "v", "type": "quantitative", "scale": {"domain": [0, 9], "nice": false}, "axis": {"values": [0, 2, 4, 6, 8], "title": "Vₘₐₓ (V)"}},
     "y": {"field": "y", "type": "quantitative", "scale": {"domain": [0, 40], "nice": false}, "axis": {"values": [0, 10, 20, 30, 40], "title": "σᵣₑᵥ (μC/cm²)"}},
     "color": {"field": "s", "type": "nominal", "scale": {"domain": [1,2,3,4,5,6,7,8,9,10], "range": ["#FF3B3B","#FF6347","#FA9E2E","#B4E334","#1DC81D","#22D6A0","#26B3EA","#2F6BF0","#8E2BE0","#A536C9"]}, "legend": null}}},
   {"data": {"name": "d"}, "mark": {"type": "point"}, "encoding": {
     "x": {"field": "v", "type": "quantitative", "title": "Vₘₐₓ (V)"},
     "y": {"field": "y", "type": "quantitative", "title": "σᵣₑᵥ (μC/cm²)"},
     "color": {"field": "s", "type": "nominal", "legend": null},
     "shape": {"field": "s", "type": "nominal", "scale": {"domain": [1,2,3,4,5,6,7,8,9,10], "range": ["square","circle","triangle-up","diamond","triangle-up","triangle-right","triangle-down","M0,-1L0.235,-0.324L0.951,-0.309L0.38,0.124L0.588,0.809L0,0.4L-0.588,0.809L-0.38,0.124L-0.951,-0.309L-0.235,-0.324Z","M-1,0L-0.5,-0.866L0.5,-0.866L1,0L0.5,0.866L-0.5,0.866Z","square"]}, "legend": null}}},
   {"data": {"name": "ref"}, "mark": {"type": "line", "color": "black", "strokeWidth": 2}, "encoding": {"x": {"field": "v", "type": "quantitative", "title": "Vₘₐₓ (V)"}, "y": {"field": "y", "type": "quantitative", "title": "σᵣₑᵥ (μC/cm²)"}}},
   {"data": {"name": "arrD"}, "mark": {"type": "line", "color": "black", "strokeWidth": 2, "interpolate": "cardinal"}, "encoding": {"x": {"field": "v", "type": "quantitative", "title": "Vₘₐₓ (V)"}, "y": {"field": "y", "type": "quantitative", "title": "σᵣₑᵥ (μC/cm²)"}, "order": {"field": "o"}}},
   {"data": {"values": [{}]}, "mark": {"type": "point", "shape": "triangle-up", "color": "black", "size": 70, "angle": -36}, "encoding": {"x": {"datum": 7.33, "type": "quantitative"}, "y": {"datum": 15.8, "type": "quantitative"}}},
   {"data": {"values": [{}]}, "mark": {"type": "text", "text": "Fixed pulse width: 100 ns"}, "encoding": {"x": {"datum": 0.42, "type": "quantitative"}, "y": {"datum": 35.9, "type": "quantitative"}}},
   {"data": {"values": [{}]}, "mark": {"type": "text", "text": "Rise time: 100 ns → 20 μs"}, "encoding": {"x": {"datum": 0.42, "type": "quantitative"}, "y": {"datum": 31.2, "type": "quantitative"}}},
   {"data": {"values": [{}]}, "mark": {"type": "text", "text": "(d)"}, "encoding": {"x": {"datum": 0.42, "type": "quantitative"}, "y": {"datum": 25.5, "type": "quantitative"}}},
   {"data": {"values": [{}]}, "mark": {"type": "text", "text": "3 nm Al₂O₃"}, "encoding": {"x": {"datum": 2.06, "type": "quantitative"}, "y": {"datum": 16.2, "type": "quantitative"}}}
  ]
 },
 {
  "width": 222, "height": 179,
  "layer": [
   {"data": {"name": "e"}, "mark": {"type": "line"}, "encoding": {
     "x": {"field": "v", "type": "quantitative", "scale": {"domain": [0, 9], "nice": false}, "axis": {"values": [0, 2, 4, 6, 8], "title": "Vₘₐₓ (V)"}},
     "y": {"field": "y", "type": "quantitative", "scale": {"domain": [0, 40], "nice": false}, "axis": {"values": [0, 10, 20, 30, 40], "title": "σᵣₑₛ (μC/cm²)"}},
     "color": {"field": "s", "type": "nominal", "scale": {"domain": [1,2,3,4,5,6,7,8,9,10], "range": ["#FF3B3B","#FF6347","#FA9E2E","#B4E334","#1DC81D","#22D6A0","#26B3EA","#2F6BF0","#8E2BE0","#A536C9"]}, "legend": null}}},
   {"data": {"name": "e"}, "mark": {"type": "point"}, "encoding": {
     "x": {"field": "v", "type": "quantitative", "title": "Vₘₐₓ (V)"},
     "y": {"field": "y", "type": "quantitative", "title": "σᵣₑₛ (μC/cm²)"},
     "color": {"field": "s", "type": "nominal", "legend": null},
     "shape": {"field": "s", "type": "nominal", "scale": {"domain": [1,2,3,4,5,6,7,8,9,10], "range": ["square","circle","triangle-up","diamond","triangle-up","triangle-right","triangle-down","M0,-1L0.235,-0.324L0.951,-0.309L0.38,0.124L0.588,0.809L0,0.4L-0.588,0.809L-0.38,0.124L-0.951,-0.309L-0.235,-0.324Z","M-1,0L-0.5,-0.866L0.5,-0.866L1,0L0.5,0.866L-0.5,0.866Z","square"]}, "legend": null}}},
   {"data": {"name": "ref"}, "mark": {"type": "line", "color": "black", "strokeWidth": 2}, "encoding": {"x": {"field": "v", "type": "quantitative", "title": "Vₘₐₓ (V)"}, "y": {"field": "y", "type": "quantitative", "title": "σᵣₑₛ (μC/cm²)"}}},
   {"data": {"name": "arrE"}, "mark": {"type": "line", "color": "black", "strokeWidth": 2, "interpolate": "cardinal", "strokeDash": [4, 2]}, "encoding": {"x": {"field": "v", "type": "quantitative", "title": "Vₘₐₓ (V)"}, "y": {"field": "y", "type": "quantitative", "title": "σᵣₑₛ (μC/cm²)"}, "order": {"field": "o"}}},
   {"data": {"values": [{}]}, "mark": {"type": "point", "shape": "triangle-up", "color": "black", "size": 70, "angle": -57}, "encoding": {"x": {"datum": 7.1, "type": "quantitative"}, "y": {"datum": 14.9, "type": "quantitative"}}},
   {"data": {"values": [{}]}, "mark": {"type": "text", "text": "Fixed pulse width: 100 ns"}, "encoding": {"x": {"datum": 0.45, "type": "quantitative"}, "y": {"datum": 36.1, "type": "quantitative"}}},
   {"data": {"values": [{}]}, "mark": {"type": "text", "text": "Rise time: 100 ns → 20 μs"}, "encoding": {"x": {"datum": 0.45, "type": "quantitative"}, "y": {"datum": 31.3, "type": "quantitative"}}},
   {"data": {"values": [{}]}, "mark": {"type": "text", "text": "(e)"}, "encoding": {"x": {"datum": 0.45, "type": "quantitative"}, "y": {"datum": 25.3, "type": "quantitative"}}},
   {"data": {"values": [{}]}, "mark": {"type": "text", "text": "3 nm Al₂O₃"}, "encoding": {"x": {"datum": 1.89, "type": "quantitative"}, "y": {"datum": 15.8, "type": "quantitative"}}}
  ]
 },
 {
  "width": 222, "height": 179,
  "resolve": {"scale": {"y": "independent"}},
  "layer": [
   {
    "layer": [
     {"data": {"name": "fg"}, "mark": {"type": "line", "color": "#1E8B1E", "strokeWidth": 2}, "encoding": {
       "x": {"field": "v", "type": "quantitative", "scale": {"domain": [0, 9], "nice": false}, "axis": {"values": [0, 2, 4, 6, 8], "title": "Vₘₐₓ (V)"}},
       "y": {"field": "y", "type": "quantitative", "scale": {"domain": [0, 57], "nice": false}, "axis": {"values": [0, 15, 30, 45], "title": "Eₐₗ₂ₒ₃ (MV/cm)"}}}},
     {"data": {"values": [{}]}, "mark": {"type": "rule", "color": "black", "strokeWidth": 1.5, "strokeDash": [5, 4]}, "encoding": {"x": {"datum": 0, "type": "quantitative"}, "x2": {"datum": 9}, "y": {"datum": 10.2, "type": "quantitative"}}},
     {"data": {"name": "ell"}, "mark": {"type": "line", "color": "#1A3AF0", "strokeWidth": 2, "strokeDash": [6, 3], "interpolate": "cardinal-closed"}, "encoding": {"x": {"field": "v", "type": "quantitative", "title": "Vₘₐₓ (V)"}, "y": {"field": "y", "type": "quantitative", "title": "Eₐₗ₂ₒ₃ (MV/cm)"}, "order": {"field": "o"}}},
     {"data": {"name": "fg"}, "mark": {"type": "point", "shape": "square", "color": "#1E8B1E", "size": 55}, "encoding": {"x": {"field": "v", "type": "quantitative", "title": "Vₘₐₓ (V)"}, "y": {"field": "y", "type": "quantitative", "title": "Eₐₗ₂ₒ₃ (MV/cm)"}}},
     {"data": {"name": "fr"}, "mark": {"type": "line", "color": "#FF2A2A", "strokeWidth": 2}, "encoding": {"x": {"field": "v", "type": "quantitative", "title": "Vₘₐₓ (V)"}, "y": {"field": "y", "type": "quantitative", "title": "Eₐₗ₂ₒ₃ (MV/cm)"}}},
     {"data": {"name": "fr"}, "mark": {"type": "point", "shape": "square", "color": "#FF2A2A", "size": 70}, "encoding": {"x": {"field": "v", "type": "quantitative", "title": "Vₘₐₓ (V)"}, "y": {"field": "y", "type": "quantitative", "title": "Eₐₗ₂ₒ₃ (MV/cm)"}}},
     {"data": {"values": [{}]}, "mark": {"type": "rule", "color": "#1A3AF0", "strokeWidth": 2}, "encoding": {"x": {"datum": 7.22, "type": "quantitative"}, "y": {"datum": 32.9, "type": "quantitative"}, "x2": {"datum": 6.35}, "y2": {"datum": 42.6}}},
     {"data": {"values": [{}]}, "mark": {"type": "point", "shape": "triangle-up", "color": "#1A3AF0", "size": 70, "angle": -37}, "encoding": {"x": {"datum": 6.24, "type": "quantitative"}, "y": {"datum": 43.6, "type": "quantitative"}}},
     {"data": {"values": [{}]}, "mark": {"type": "rule", "color": "black", "strokeWidth": 1.5}, "encoding": {"x": {"datum": 0.15, "type": "quantitative"}, "y": {"datum": 11.3, "type": "quantitative"}, "x2": {"datum": 0.46}, "y2": {"datum": 13.4}}},
     {"data": {"values": [{}]}, "mark": {"type": "rule", "color": "black", "strokeWidth": 1.5}, "encoding": {"x": {"datum": 8.9, "type": "quantitative"}, "y": {"datum": 11.3, "type": "quantitative"}, "x2": {"datum": 8.7}, "y2": {"datum": 13.2}}},
     {"data": {"values": [{}]}, "mark": {"type": "point", "shape": "circle", "fill": "#C8C8C8", "stroke": "#333333", "strokeWidth": 1, "size": 90}, "encoding": {"x": {"datum": 0, "type": "quantitative"}, "y": {"datum": 10.2, "type": "quantitative"}}},
     {"data": {"values": [{}]}, "mark": {"type": "point", "shape": "circle", "fill": "#C8C8C8", "stroke": "#333333", "strokeWidth": 1, "size": 90}, "encoding": {"x": {"datum": 9, "type": "quantitative"}, "y": {"datum": 10.2, "type": "quantitative"}}},
     {"data": {"values": [{}]}, "mark": {"type": "text", "text": "Nᵢₜ,₁: 1.2×10¹⁴ cm⁻²", "color": "#1A3AF0"}, "encoding": {"x": {"datum": 1.3, "type": "quantitative"}, "y": {"datum": 49.4, "type": "quantitative"}}},
     {"data": {"values": [{}]}, "mark": {"type": "text", "text": "(f)"}, "encoding": {"x": {"datum": 7.78, "type": "quantitative"}, "y": {"datum": 49.4, "type": "quantitative"}}},
     {"data": {"values": [{}]}, "mark": {"type": "text", "text": "Breakdown"}, "encoding": {"x": {"datum": 0.35, "type": "quantitative"}, "y": {"datum": 15.6, "type": "quantitative"}}},
     {"data": {"values": [{}]}, "mark": {"type": "text", "text": "Max.", "align": "center"}, "encoding": {"x": {"datum": 8.03, "type": "quantitative"}, "y": {"datum": 20.9, "type": "quantitative"}}},
     {"data": {"values": [{}]}, "mark": {"type": "text", "text": "charges", "align": "center"}, "encoding": {"x": {"datum": 7.49, "type": "quantitative"}, "y": {"datum": 14.5, "type": "quantitative"}}}
    ]
   },
   {
    "data": {"values": [{}]},
    "mark": {"type": "rule", "opacity": 0},
    "encoding": {"y": {"datum": 0, "type": "quantitative", "scale": {"domain": [0, 40], "nice": false}, "axis": {"orient": "right", "values": [0, 10, 20, 30, 40], "title": "Charge density (μC/cm²)", "titleAngle": 270, "titleBaseline": "top", "titlePadding": 0}}}
   }
  ]
 }
]
}
